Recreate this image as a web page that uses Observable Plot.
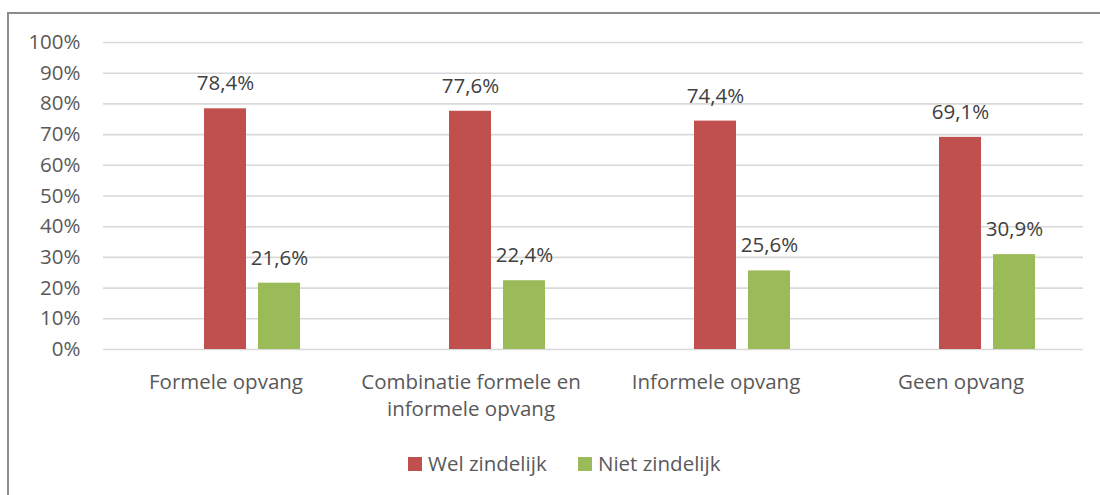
<!DOCTYPE html>
<html>
<head>
<meta charset="utf-8">
<script src="https://cdn.jsdelivr.net/npm/d3@7"></script>
<script src="https://cdn.jsdelivr.net/npm/@observablehq/plot@0.6"></script>
<style>
  html, body { margin: 0; padding: 0; background: #fff; }
  #wrap { position: relative; width: 1100px; height: 495px; overflow: hidden; font-family: "Open Sans", sans-serif; }
  #chart { position: absolute; left: 0; top: 0; }
  #border { position: absolute; left: 7px; top: 12px; width: 1200px; height: 700px; border: 2px solid #8c8c8c; box-sizing: border-box; pointer-events: none; }
  .sw { position: absolute; width: 14px; height: 14px; }
  .lt { position: absolute; font-size: 20.5px; line-height: 20px; color: #595959; white-space: nowrap; }
</style>
</head>
<body>
<div id="wrap">
  <div id="chart"></div>
  <div id="border"></div>
  <div id="legend"></div>
</div>
<script>
const categories = ["Formele opvang", "Combinatie formele en informele opvang", "Informele opvang", "Geen opvang"];
const categoryLabels = ["Formele opvang", "Combinatie formele en\ninformele opvang", "Informele opvang", "Geen opvang"];
const series = ["Wel zindelijk", "Niet zindelijk"];
const welZindelijk = [0.784, 0.776, 0.744, 0.691];
const nietZindelijk = [0.216, 0.224, 0.256, 0.309];
const seriesColors = ["#c0504d", "#9bbb59"];
const yTicks = [0, 0.1, 0.2, 0.3, 0.4, 0.5, 0.6, 0.7, 0.8, 0.9, 1.0];

const values = [welZindelijk, nietZindelijk];
const rows = categories.flatMap((c, i) => series.map((s, j) => ({category: c, series: s, value: values[j][i]})));
const labelRows = categories.map((c, i) => ({category: c, label: categoryLabels[i]}));

const fmtPct = v => d3.format(".1f")(v * 100).replace(".", ",") + "%";

const chart = Plot.plot({
  width: 1100,
  height: 440,
  marginLeft: 102,
  marginRight: 16,
  marginTop: 42,
  marginBottom: 91,
  style: {fontFamily: "Open Sans, sans-serif", fontSize: "20.5px", color: "#595959", background: "transparent", overflow: "visible"},
  fx: {domain: categories, padding: 0, axis: null},
  x: {domain: ["(leeg)", ...series], paddingInner: 0.218, paddingOuter: 0.841, axis: null},
  y: {domain: [0, 1], axis: null},
  color: {domain: series, range: seriesColors},
  marks: [
    Plot.ruleY(yTicks, {y: d => d, stroke: "#d9d9d9", strokeWidth: 1.6}),
    Plot.axisY(yTicks, {tickSize: 0, tickPadding: 23, tickFormat: d3.format(".0%"), fill: "#595959", fontSize: 20.5, label: null}),
    Plot.barY(rows, {fx: "category", x: "series", y: "value", fill: "series"}),
    Plot.text(rows, {fx: "category", x: "series", y: "value", text: d => fmtPct(d.value), dy: -25, fill: "#404040", fontSize: 20.5}),
    Plot.text(labelRows, {fx: "category", frameAnchor: "bottom", text: "label", lineAnchor: "top", dy: 21, lineHeight: 1.3, fill: "#595959", fontSize: 20.5})
  ]
});
document.getElementById("chart").appendChild(chart);

const legend = document.getElementById("legend");
const legendPos = [[408, 428], [578, 598]];
series.forEach((s, i) => {
  const sw = document.createElement("div");
  sw.className = "sw";
  sw.style.left = legendPos[i][0] + "px";
  sw.style.top = "457px";
  sw.style.background = seriesColors[i];
  legend.appendChild(sw);
  const t = document.createElement("div");
  t.className = "lt";
  t.style.left = legendPos[i][1] + "px";
  t.style.top = "453px";
  t.textContent = s;
  legend.appendChild(t);
});
</script>
</body>
</html>
